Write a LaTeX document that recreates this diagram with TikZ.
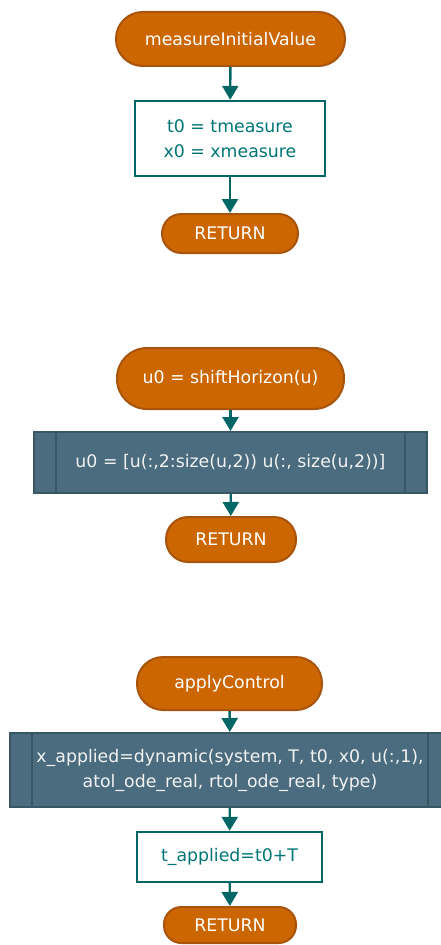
\documentclass[tikz,border=0pt]{standalone}
\usepackage{fontspec}
\setmainfont{DejaVu Sans}
\usetikzlibrary{arrows.meta}

\definecolor{termfill}{RGB}{204,102,0}
\definecolor{termline}{RGB}{168,84,12}
\definecolor{tealline}{RGB}{0,102,102}
\definecolor{tealtext}{RGB}{0,118,118}
\definecolor{predfill}{RGB}{74,108,126}
\definecolor{predline}{RGB}{56,86,100}

\tikzset{
  term/.style={draw=termline, line width=1.5pt, fill=termfill, text=white,
    rounded corners=#1, inner sep=0pt, font=\fontsize{13}{18.75}\selectfont},
  term/.default=20pt,
  procbox/.style={draw=tealline, line width=1.8pt, fill=white, text=tealtext,
    inner sep=0pt, align=center, font=\fontsize{13}{18.75}\selectfont},
  predef/.style={draw=predline, line width=1.5pt, fill=predfill, text=white!95!black,
    inner sep=0pt, align=center, font=\fontsize{13}{18.75}\selectfont},
  link/.style={draw=tealline, line width=1.8pt, -{Triangle[length=10.5pt,width=12pt]}},
}

\begin{document}
\begin{tikzpicture}[x=0.75pt,y=0.75pt,yscale=-1,xscale=1]
\useasboundingbox (0,0) rectangle (441,945);
\clip (0,0) rectangle (441,945);

% measureInitialValue
\node[term=20pt, minimum width=171.75pt, minimum height=40.5pt] (start1) at (230.5,39) {measureInitialValue};
\node[procbox, minimum width=142.5pt, minimum height=56.25pt] (set1) at (230,138.5) {t0 = tmeasure\\x0 = xmeasure};
\node[term=14.5pt, minimum width=102pt, minimum height=29.25pt] (ret1) at (230,233.5) {RETURN};

\draw[link] (start1) -- (set1);
\draw[link] (set1) -- (ret1);

% shiftHorizon
\node[term=22.5pt, minimum width=170.25pt, minimum height=45.75pt] (start2) at (230.5,378.5) {u0 = shiftHorizon(u)};
\node[predef, minimum width=294.75pt, minimum height=45.75pt] (shift2) at (230.5,462.5) {u0 = [u(:,2:size(u,2)) u(:, size(u,2))]};
\draw[predline, line width=1.5pt] ([xshift=17.25pt]shift2.north west) -- ([xshift=17.25pt]shift2.south west);
\draw[predline, line width=1.5pt] ([xshift=-17.25pt]shift2.north east) -- ([xshift=-17.25pt]shift2.south east);
\node[term=16.5pt, minimum width=97.5pt, minimum height=33.75pt] (ret2) at (231,539.5) {RETURN};

\draw[link] (start2) -- (shift2);
\draw[link] (shift2) -- (ret2);

% applyControl
\node[term=19.5pt, minimum width=138.75pt, minimum height=39.75pt] (start3) at (229.5,683.5) {applyControl};
\node[predef, minimum width=330pt, minimum height=55.5pt] (dyn3) at (230,770) {x\_applied=dynamic(system, T, t0, x0, u(:,1),\\atol\_ode\_real, rtol\_ode\_real, type)};
\draw[predline, line width=1.5pt] ([xshift=17.25pt]dyn3.north west) -- ([xshift=17.25pt]dyn3.south west);
\draw[predline, line width=1.5pt] ([xshift=-17.25pt]dyn3.north east) -- ([xshift=-17.25pt]dyn3.south east);
\node[procbox, minimum width=138.75pt, minimum height=37.5pt] (set3) at (229.5,857) {t\_applied=t0+T};
\node[term=13pt, minimum width=99pt, minimum height=27pt] (ret3) at (230,925) {RETURN};

\draw[link] (start3) -- (dyn3);
\draw[link] (dyn3) -- (set3);
\draw[link] (set3) -- (ret3);

\end{tikzpicture}
\end{document}
